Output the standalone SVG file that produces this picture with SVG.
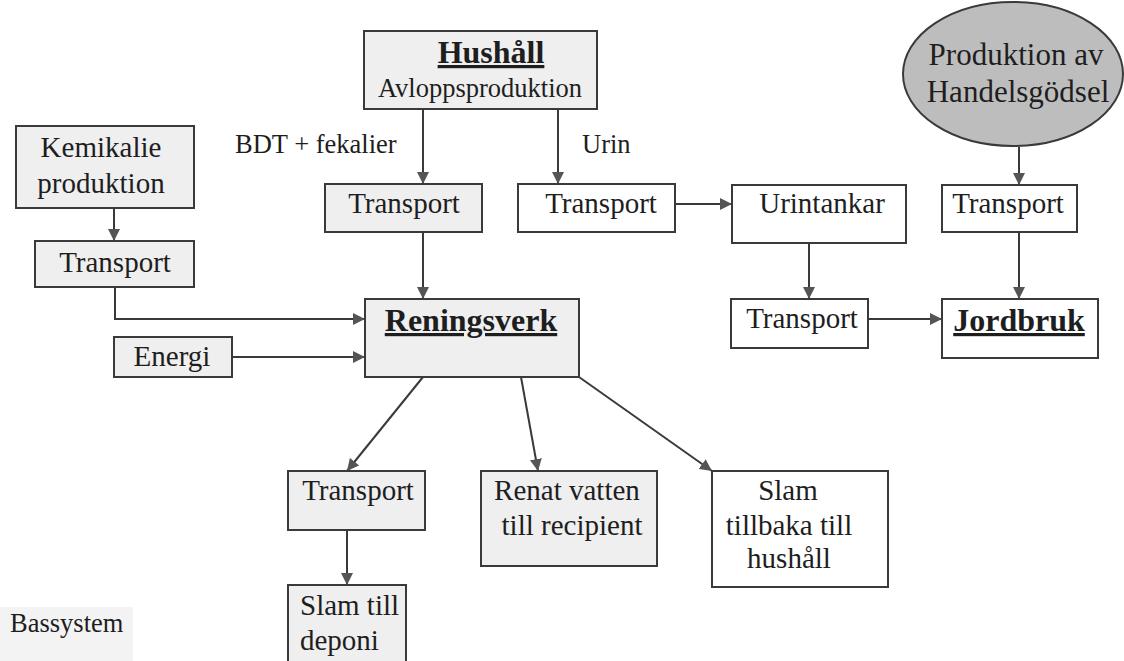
<svg xmlns="http://www.w3.org/2000/svg" width="1124" height="661" viewBox="0 0 1124 661">
<style>
.b{stroke:#3a3a3a;stroke-width:2;fill:#fff}
.s{fill:#efefef}
text{font-family:"Liberation Serif","Times New Roman",serif;fill:#1e1e1e;font-size:29px}
.c{text-anchor:middle}
.bold{font-weight:bold;font-size:32px;text-decoration:underline}
.lbl{font-size:26.5px}
.e{stroke:#3a3a3a;stroke-width:2;fill:none;marker-end:url(#ah)}
</style>
<defs>
<marker id="ah" markerUnits="userSpaceOnUse" markerWidth="12" markerHeight="12" viewBox="0 0 12 12" refX="12" refY="6" orient="auto">
<path d="M0,0 L12,6 L0,12 z" fill="#555"/>
</marker>
</defs>
<rect x="0" y="607" width="133" height="54" fill="#f3f3f3"/>
<text x="10" y="632" class="lbl">Bassystem</text>
<g id="connectors">
<line class="e" x1="423" y1="109" x2="423" y2="184"/>
<line class="e" x1="558" y1="109" x2="558" y2="184"/>
<line class="e" x1="675" y1="204" x2="732" y2="204"/>
<line class="e" x1="1019" y1="147" x2="1019" y2="185"/>
<line class="e" x1="1019" y1="232" x2="1019" y2="299"/>
<line class="e" x1="809" y1="243" x2="809" y2="299"/>
<line class="e" x1="868" y1="319" x2="942" y2="319"/>
<line class="e" x1="114" y1="208" x2="114" y2="241"/>
<polyline class="e" points="115,287 115,319 365,319"/>
<line class="e" x1="232" y1="357" x2="365" y2="357"/>
<line class="e" x1="423" y1="232" x2="423" y2="299"/>
<line class="e" x1="423" y1="377" x2="347" y2="471"/>
<line class="e" x1="521" y1="377" x2="538" y2="471"/>
<line class="e" x1="579" y1="377" x2="712" y2="471"/>
<line class="e" x1="347" y1="530" x2="347" y2="585"/>
</g>
<text x="235" y="153" class="lbl">BDT + fekalier</text>
<text x="582" y="153" class="lbl">Urin</text>
<g id="hushall">
<rect class="b s" x="364" y="31" width="233" height="78"/>
<text x="491" y="63" class="c bold">Hushåll</text>
<text x="480" y="97" class="c" style="font-size:26.5px">Avloppsproduktion</text>
</g>
<g id="handelsgodsel">
<ellipse cx="1013" cy="74" rx="110" ry="72" fill="#bdbdbd" stroke="#3a3a3a" stroke-width="2"/>
<text x="1016" y="65" class="c" style="font-size:31px">Produktion av</text>
<text x="1018" y="102" class="c" style="font-size:31px">Handelsgödsel</text>
</g>
<g id="kemikalie">
<rect class="b s" x="16" y="126" width="178" height="82"/>
<text x="101" y="157" class="c">Kemikalie</text>
<text x="101" y="193" class="c">produktion</text>
</g>
<g id="transport-bdt">
<rect class="b s" x="325" y="184" width="157" height="48"/>
<text x="404" y="213" class="c">Transport</text>
</g>
<g id="transport-urin">
<rect class="b" x="518" y="184" width="157" height="48"/>
<text x="601" y="213" class="c">Transport</text>
</g>
<g id="urintankar">
<rect class="b" x="732" y="185" width="174" height="58"/>
<text x="822" y="213" class="c">Urintankar</text>
</g>
<g id="transport-gods">
<rect class="b" x="942" y="185" width="135" height="47"/>
<text x="1008" y="213" class="c">Transport</text>
</g>
<g id="transport-kem">
<rect class="b s" x="35" y="241" width="159" height="46"/>
<text x="115" y="272" class="c">Transport</text>
</g>
<g id="energi">
<rect class="b s" x="114" y="337" width="118" height="40"/>
<text x="172" y="366" class="c">Energi</text>
</g>
<g id="reningsverk">
<rect class="b s" x="365" y="299" width="214" height="78"/>
<text x="471" y="331" class="c bold">Reningsverk</text>
</g>
<g id="transport-urin2">
<rect class="b" x="731" y="299" width="137" height="49"/>
<text x="802" y="328" class="c">Transport</text>
</g>
<g id="jordbruk">
<rect class="b" x="942" y="299" width="156" height="59"/>
<text x="1019" y="331" class="c bold">Jordbruk</text>
</g>
<g id="transport-slam">
<rect class="b s" x="288" y="471" width="137" height="59"/>
<text x="358" y="500" class="c">Transport</text>
</g>
<g id="slam-deponi">
<rect class="b s" x="288" y="585" width="118" height="90"/>
<text x="300" y="615">Slam till</text>
<text x="300" y="650">deponi</text>
</g>
<g id="renat-vatten">
<rect class="b s" x="481" y="471" width="176" height="95"/>
<text x="567" y="500" class="c">Renat vatten</text>
<text x="572" y="535" class="c">till recipient</text>
</g>
<g id="slam-hushall">
<rect class="b" x="712" y="471" width="176" height="116"/>
<text x="788" y="500" class="c">Slam</text>
<text x="789" y="535" class="c">tillbaka till</text>
<text x="789" y="568" class="c">hushåll</text>
</g>
</svg>
